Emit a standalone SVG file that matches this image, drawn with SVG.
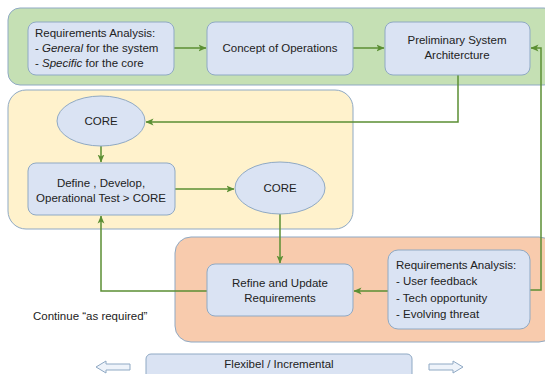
<svg xmlns="http://www.w3.org/2000/svg" width="545" height="374" viewBox="0 0 545 374">
  <defs>
    <marker id="arrow" viewBox="0 0 8 8" refX="7.5" refY="4" markerWidth="8" markerHeight="8" markerUnits="userSpaceOnUse" orient="auto">
      <path d="M0,0.6 L8,4 L0,7.4 L2,4 Z" fill="#5b8f33"/>
    </marker>
    <style>
      .container { stroke: #8fa9c4; stroke-width: 1; }
      .box { fill: #dae3f3; stroke: #8fa9c4; stroke-width: 1; }
      .t { font-family: "Liberation Sans", Arial, sans-serif; font-size: 11.5px; fill: #222; }
      .c { text-anchor: middle; }
      .link { fill: none; stroke: #5b8f33; stroke-width: 1.5; marker-end: url(#arrow); }
      .hollow { fill: #eef3fa; stroke: #8fa9c4; stroke-width: 1; }
    </style>
  </defs>

  <rect width="545" height="374" fill="#ffffff"/>

  <!-- phase backgrounds -->
  <g id="phase-definition">
    <rect class="container" x="8" y="8" width="548" height="77" rx="12" fill="#c5e0b4"/>
  </g>
  <g id="phase-core">
    <rect class="container" x="8" y="90" width="345" height="139" rx="18" fill="#fff2cc"/>
  </g>
  <g id="phase-refine">
    <rect class="container" x="175" y="237" width="380" height="105" rx="16" fill="#f8cbad"/>
  </g>

  <!-- connectors -->
  <g id="connectors">
    <path class="link" d="M174,48 H206"/>
    <path class="link" d="M353,48 H384"/>
    <path class="link" d="M458,75 V122 H146"/>
    <path class="link" d="M101,146 V162"/>
    <path class="link" d="M175,189 H234"/>
    <path class="link" d="M280,214 V263"/>
    <path class="link" d="M388,291 H354"/>
    <path class="link" d="M530,290 H541 V48 H531"/>
    <path class="link" d="M207,291 H101 V216"/>
  </g>

  <g id="req-analysis">
    <rect class="box" x="28" y="22" width="146" height="53" rx="8"/>
    <text class="t" x="35" y="37">Requirements Analysis:</text>
    <text class="t" x="35" y="52">- <tspan font-style="italic">General</tspan> for the system</text>
    <text class="t" x="35" y="67">- <tspan font-style="italic">Specific</tspan> for the core</text>
  </g>

  <g id="concept-ops">
    <rect class="box" x="207" y="22" width="146" height="53" rx="8"/>
    <text class="t c" x="280" y="52">Concept of Operations</text>
  </g>

  <g id="prelim-arch">
    <rect class="box" x="385" y="22" width="145" height="53" rx="8"/>
    <text class="t c" x="457" y="44">Preliminary System</text>
    <text class="t c" x="457" y="59">Architercture</text>
  </g>

  <g id="core-1">
    <ellipse class="box" cx="101" cy="121" rx="44" ry="25"/>
    <text class="t c" x="101" y="125">CORE</text>
  </g>

  <g id="define-develop">
    <rect class="box" x="28" y="163" width="147" height="52" rx="8"/>
    <text class="t c" x="101" y="187">Define , Develop,</text>
    <text class="t c" x="101" y="202">Operational Test &gt; CORE</text>
  </g>

  <g id="core-2">
    <ellipse class="box" cx="280" cy="188" rx="45" ry="26"/>
    <text class="t c" x="280" y="192">CORE</text>
  </g>

  <g id="refine-update">
    <rect class="box" x="207" y="264" width="146" height="52" rx="8"/>
    <text class="t c" x="280" y="287">Refine and Update</text>
    <text class="t c" x="280" y="302">Requirements</text>
  </g>

  <g id="req-analysis-2">
    <rect class="box" x="388" y="250" width="142" height="79" rx="10"/>
    <text class="t" x="396" y="269">Requirements Analysis:</text>
    <text class="t" x="396" y="285">- User feedback</text>
    <text class="t" x="396" y="302">- Tech opportunity</text>
    <text class="t" x="396" y="318">- Evolving threat</text>
  </g>

  <g id="continue-note">
    <text class="t" x="33" y="320">Continue “as required”</text>
  </g>

  <g id="flex-bar">
    <rect class="box" x="146" y="354" width="266" height="30" rx="5"/>
    <text class="t c" x="279" y="368">Flexibel / Incremental</text>
    <path class="hollow" d="M96,367 L106,361 V364 H130 V370 H106 V373 Z"/>
    <path class="hollow" d="M463,367 L453,361 V364 H429 V370 H453 V373 Z"/>
  </g>
</svg>
